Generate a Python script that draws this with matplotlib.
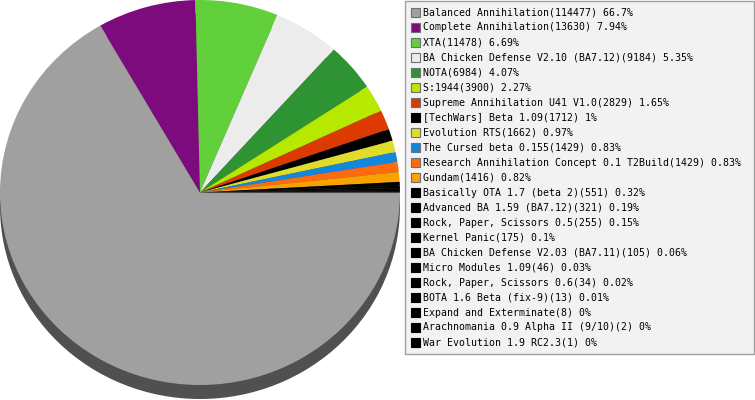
import matplotlib
matplotlib.use('Agg')
import matplotlib.pyplot as plt
from matplotlib.patches import Ellipse, Rectangle

# mod usage data
mods = [
    "Balanced Annihilation", "Complete Annihilation", "XTA",
    "BA Chicken Defense V2.10 (BA7.12)", "NOTA", "S:1944",
    "Supreme Annihilation U41 V1.0", "[TechWars] Beta 1.09", "Evolution RTS",
    "The Cursed beta 0.155", "Research Annihilation Concept 0.1 T2Build",
    "Gundam", "Basically OTA 1.7 (beta 2)", "Advanced BA 1.59 (BA7.12)",
    "Rock, Paper, Scissors 0.5", "Kernel Panic",
    "BA Chicken Defense V2.03 (BA7.11)", "Micro Modules 1.09",
    "Rock, Paper, Scissors 0.6", "BOTA 1.6 Beta (fix-9)",
    "Expand and Exterminate", "Arachnomania 0.9 Alpha II (9/10)",
    "War Evolution 1.9 RC2.3",
]
counts = [114477, 13630, 11478, 9184, 6984, 3900, 2829, 1712, 1662, 1429,
          1429, 1416, 551, 321, 255, 175, 105, 46, 34, 13, 8, 2, 1]
pcts = ["66.7%", "7.94%", "6.69%", "5.35%", "4.07%", "2.27%", "1.65%", "1%",
        "0.97%", "0.83%", "0.83%", "0.82%", "0.32%", "0.19%", "0.15%", "0.1%",
        "0.06%", "0.03%", "0.02%", "0.01%", "0%", "0%", "0%"]
colors = ["#a0a0a0", "#7d0b7d", "#62d03b", "#ececec", "#2e9433", "#b6e800",
          "#dc3a00", "#000000", "#e0dc2c", "#1188dd", "#ff6a10", "#f8a200"] + ["#000000"] * 11

W, H = 755, 400
fig = plt.figure(figsize=(W / 100, H / 100), dpi=100)

# background axes in pixel coordinates
bg = fig.add_axes([0, 0, 1, 1])
bg.set_xlim(0, W)
bg.set_ylim(H, 0)
bg.axis('off')

# pie shadow
bg.add_patch(Ellipse((200, 206.5), 400, 385, color="#505050", lw=0))

# pie (slightly elliptical)
pie_ax = fig.add_axes([0, 15 / H, 400 / W, 385 / H])
pie_ax.pie(counts, colors=colors, startangle=0, counterclock=False,
           wedgeprops=dict(linewidth=0, antialiased=True))
pie_ax.set_aspect('auto')
pie_ax.set_xlim(-1, 1)
pie_ax.set_ylim(-1, 1)
pie_ax.patch.set_alpha(0)

# legend box
bg.add_patch(Rectangle((404.5, 0.5), 349.5, 353.5, facecolor="#f2f2f2",
                       edgecolor="#a0a0a0", lw=1))
for i, (name, c, p) in enumerate(zip(mods, counts, pcts)):
    y = 12.5 + i * 15
    bg.add_patch(Rectangle((410.5, y - 4.5), 9, 9, facecolor=colors[i],
                           edgecolor="#707070" if colors[i] != "#000000" else "#000000",
                           lw=0.8))
    bg.text(423, y, f"{name}({c}) {p}", fontsize=7.15, family="DejaVu Sans Mono",
            va='center', ha='left', color="#000000")

fig.savefig("out.png", dpi=100)
